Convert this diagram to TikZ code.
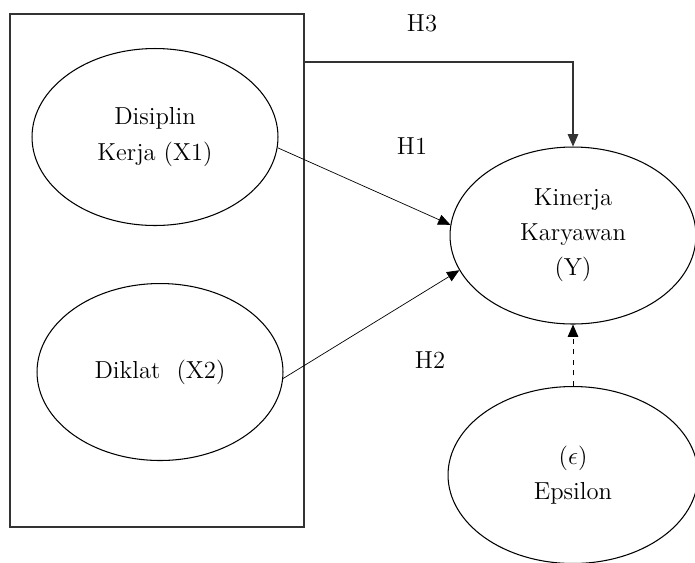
\documentclass[tikz,border=0pt]{standalone}
\usepackage{amsmath,amssymb}
\usepackage{tikz}
\usetikzlibrary{shapes.geometric,arrows.meta}
\tikzset{
    latent/.style={
        draw,
        semithick,
        ellipse,
        inner sep=0,
        minimum width=4.92cm,
        minimum height=3.54cm,
        align=center,
        font=\fontsize{14}{20}\selectfont,
    },
    path/.style={
        -{Triangle[length=7pt,width=6pt]},
        thin,
    },
    hlabel/.style={
        font=\fontsize{14}{17}\selectfont,
    },
}

\begin{document}
\begin{tikzpicture}[x=0.02cm, y=-0.02cm]
            \useasboundingbox (0, 0) rectangle (695, 562) ;

            \node[draw=black!80, thick, minimum width=5.88cm, minimum height=10.26cm, inner sep=0] at (157, 270.5) (box) {} ;

            \node[latent] at (155, 137) (X1) {Disiplin\\Kerja (X1)} ;
            \node[latent] at (160, 372) (X2) {Diklat~ (X2)} ;
            \node[latent] at (573, 235.5) (Y) {Kinerja\\Karyawan\\(Y)} ;
            \node[latent, minimum width=5cm] at (573, 475) (E) {(\ensuremath{\epsilon})\\Epsilon} ;

            \coordinate (h3start) at (304, 62) ;

            \node[hlabel] at (422, 23) (H3) {H3} ;
            \node[hlabel] at (412, 146) (H1) {H1} ;
            \node[hlabel] at (430, 360) (H2) {H2} ;

            \draw[path, black!80, semithick] (h3start) -| (Y) ;
            \draw[path] (X1.-5) -- (Y.175) ;
            \draw[path] (X2.-3) -- (Y.197) ;
            \draw[path, dashed] (E) -- (Y) ;
        \end{tikzpicture}
\end{document}
